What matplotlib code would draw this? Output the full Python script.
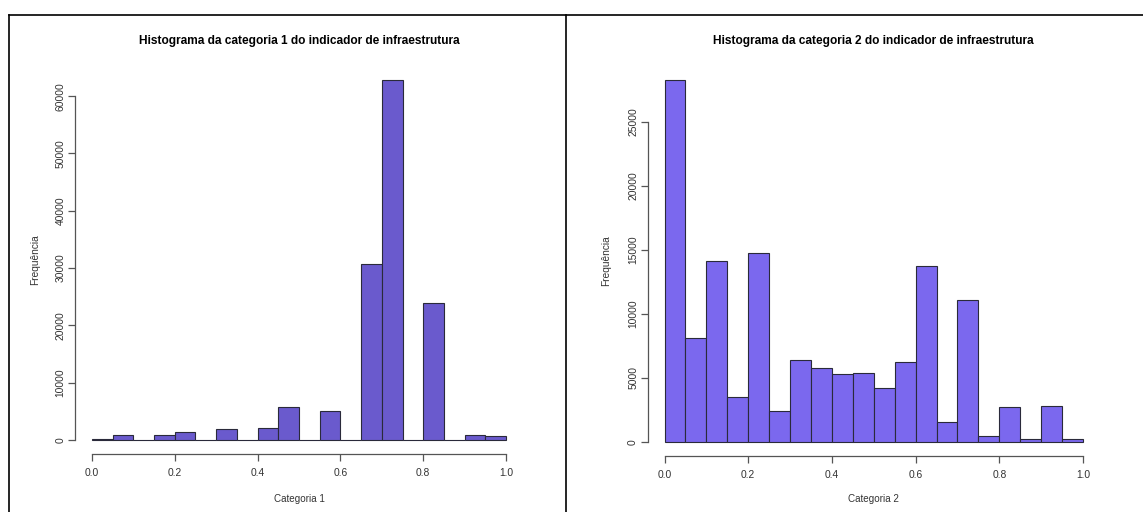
import numpy as np
import matplotlib
matplotlib.use('Agg')
import matplotlib.pyplot as plt
from matplotlib.lines import Line2D

plt.rcParams['font.family'] = ['Liberation Sans', 'DejaVu Sans']

# bin edges shared by both histograms (width 0.05)
bin_edges = np.round(np.arange(0, 1.0001, 0.05), 2)

# counts per bin
cat1_counts = [200, 800, 0, 800, 1450, 0, 1860, 0, 2100, 5770,
               0, 5130, 0, 30700, 62900, 0, 23940, 0, 800, 640]
cat2_counts = [28300, 8080, 14130, 3520, 14780, 2400, 6360, 5735, 5290, 5340,
               4200, 6200, 13740, 1540, 11080, 440, 2690, 180, 2820, 235]

titles = ['Histograma da categoria 1 do indicador de infraestrutura',
          'Histograma da categoria 2 do indicador de infraestrutura']
xlabels = ['Categoria 1', 'Categoria 2']
yticks1 = [0, 10000, 20000, 30000, 40000, 50000, 60000]
yticks2 = [0, 5000, 10000, 15000, 20000, 25000]
xticks = [0.0, 0.2, 0.4, 0.6, 0.8, 1.0]

W, H = 1143, 512
fig = plt.figure(figsize=(W / 100, H / 100), dpi=100)

# axes boxes in pixels: left, top, right, bottom
boxes = [(75.4, 65.1, 522.6, 454.4), (647.8, 65.3, 1099.7, 456.2)]
ylabel_x = [35, 606]
colors = ['#6A5ACD', '#7B68EE']
all_counts = [cat1_counts, cat2_counts]
all_yticks = [yticks1, yticks2]

for i in range(2):
    l, t, r, b = boxes[i]
    ax = fig.add_axes([l / W, 1 - b / H, (r - l) / W, (b - t) / H])
    counts = all_counts[i]
    ax.bar(bin_edges[:-1], counts, width=0.05, align='edge',
           color=colors[i], edgecolor='#2a2a3a', linewidth=0.8)
    ymax = max(counts)
    ax.set_xlim(-0.04, 1.04)
    ax.set_ylim(-0.04 * ymax, 1.04 * ymax)
    for s in ['top', 'right']:
        ax.spines[s].set_visible(False)
    ax.spines['left'].set_bounds(all_yticks[i][0], all_yticks[i][-1])
    ax.spines['bottom'].set_bounds(0, 1)
    for s in ['left', 'bottom']:
        ax.spines[s].set_color('#555555')
        ax.spines[s].set_linewidth(0.9)
    ax.set_xticks(xticks)
    ax.set_xticklabels(['%.1f' % v for v in xticks])
    ax.set_yticks(all_yticks[i])
    ax.set_yticklabels([str(v) for v in all_yticks[i]], rotation=90, va='center')
    ax.tick_params(length=5, width=0.9, color='#555555', labelsize=7.4,
                   labelcolor='#333333')
    ax.tick_params(axis='y', pad=2)
    ax.tick_params(axis='x', pad=5)
    ax.set_title(titles[i], fontsize=8.6, fontweight='bold', pad=0,
                 y=(b - 41) / (b - t), va='center')
    ax.set_xlabel(xlabels[i], fontsize=7.1, color='#333333')
    ax.xaxis.set_label_coords(0.5, (b - 499) / (b - t))
    ax.xaxis.label.set_va('center')
    ax.set_ylabel('Frequência', fontsize=7.3, color='#333333')
    ax.yaxis.set_label_coords((ylabel_x[i] - l) / (r - l), 0.5)
    ax.yaxis.label.set_va('center')

# frame lines of the surrounding table
ty = 1 - 15 / H
fig.add_artist(Line2D([9 / W, 1.0], [ty, ty], color='black', linewidth=1.2))
fig.add_artist(Line2D([9 / W, 9 / W], [0, ty], color='black', linewidth=1.2))
fig.add_artist(Line2D([566 / W, 566 / W], [0, ty], color='black', linewidth=1.2))

fig.savefig('out.png', dpi=100)
